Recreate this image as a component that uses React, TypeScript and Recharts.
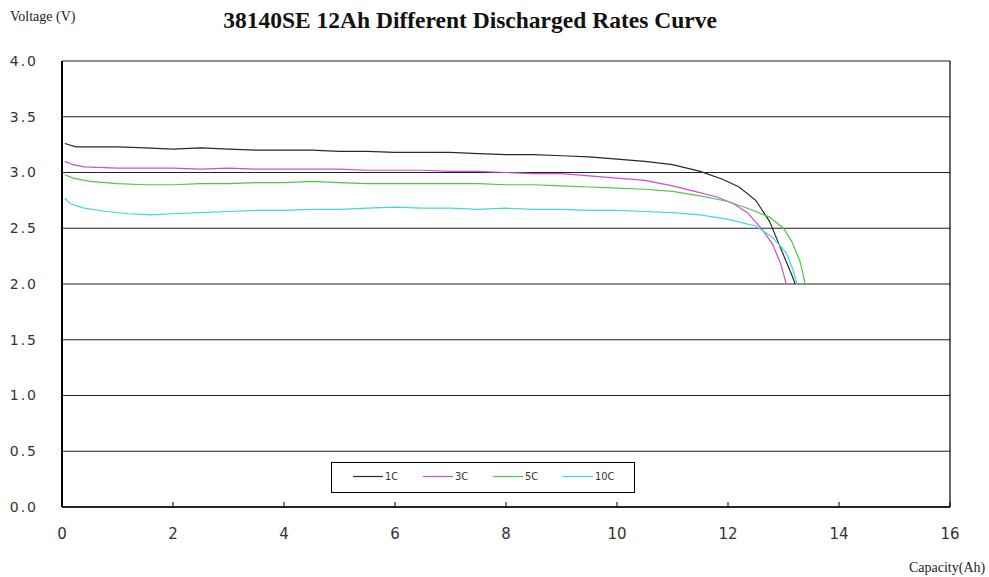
import { LineChart, Line, XAxis, YAxis, CartesianGrid, ReferenceLine } from "recharts"

const title = "38140SE 12Ah Different Discharged Rates Curve"

const xTicks = [0, 2, 4, 6, 8, 10, 12, 14, 16]
const yTicks = [0, 0.5, 1, 1.5, 2, 2.5, 3, 3.5, 4]

const cap1C = [0.05, 0.25, 0.6, 1, 1.5, 2, 2.5, 3, 3.5, 4, 4.5, 5, 5.5, 6, 6.5, 7, 7.5, 8, 8.5, 9, 9.5, 10, 10.5, 11, 11.5, 11.9, 12.2, 12.5, 12.75, 12.9, 13.05, 13.15, 13.21]
const volt1C = [3.26, 3.23, 3.23, 3.23, 3.22, 3.21, 3.22, 3.21, 3.2, 3.2, 3.2, 3.19, 3.19, 3.18, 3.18, 3.18, 3.17, 3.16, 3.16, 3.15, 3.14, 3.12, 3.1, 3.07, 3.01, 2.94, 2.87, 2.75, 2.56, 2.38, 2.2, 2.08, 2.0]

const cap3C = [0.05, 0.2, 0.4, 1, 1.5, 2, 2.5, 3, 3.5, 4, 4.5, 5, 5.5, 6, 6.5, 7, 7.5, 8, 8.5, 9, 9.5, 10, 10.5, 11, 11.4, 11.8, 12.1, 12.35, 12.6, 12.8, 12.95, 13.05]
const volt3C = [3.1, 3.07, 3.05, 3.04, 3.04, 3.04, 3.03, 3.04, 3.03, 3.03, 3.03, 3.03, 3.02, 3.02, 3.02, 3.01, 3.01, 3.0, 2.99, 2.99, 2.97, 2.95, 2.93, 2.88, 2.83, 2.78, 2.72, 2.64, 2.5, 2.36, 2.18, 2.0]

const cap5C = [0.05, 0.2, 0.5, 1, 1.5, 2, 2.5, 3, 3.5, 4, 4.5, 5, 5.5, 6, 6.5, 7, 7.5, 8, 8.5, 9, 9.5, 10, 10.5, 11, 11.5, 12, 12.4, 12.75, 13.0, 13.15, 13.3, 13.39]
const volt5C = [2.98, 2.95, 2.92, 2.9, 2.89, 2.89, 2.9, 2.9, 2.91, 2.91, 2.92, 2.91, 2.9, 2.9, 2.9, 2.9, 2.9, 2.89, 2.89, 2.88, 2.87, 2.86, 2.85, 2.83, 2.79, 2.74, 2.67, 2.6, 2.5, 2.38, 2.2, 2.0]

const cap10C = [0.05, 0.15, 0.4, 0.8, 1.2, 1.6, 2, 2.5, 3, 3.5, 4, 4.5, 5, 5.5, 6, 6.5, 7, 7.5, 8, 8.5, 9, 9.5, 10, 10.5, 11, 11.5, 12, 12.5, 12.8, 13.05, 13.17, 13.24]
const volt10C = [2.77, 2.72, 2.68, 2.65, 2.63, 2.62, 2.63, 2.64, 2.65, 2.66, 2.66, 2.67, 2.67, 2.68, 2.69, 2.68, 2.68, 2.67, 2.68, 2.67, 2.67, 2.66, 2.66, 2.65, 2.64, 2.62, 2.58, 2.52, 2.42, 2.28, 2.13, 2.0]

const series = [
  { name: "1C", cap: cap1C, volt: volt1C, color: "#2a2a2a" },
  { name: "3C", cap: cap3C, volt: volt3C, color: "#d04cd0" },
  { name: "5C", cap: cap5C, volt: volt5C, color: "#4cc84c" },
  { name: "10C", cap: cap10C, volt: volt10C, color: "#40d8d8" },
]

const toPoints = (cap: number[], volt: number[]) => cap.map((x, i) => ({ x, v: volt[i] }))

const XTick = (props: any) => {
  const { x, y, payload } = props
  return (
    <g>
      <line x1={x} x2={x} y1={y} y2={y - 5} stroke="#000" />
      <text x={x} y={y + 32} textAnchor="middle" fill="#333" fontSize={15} fontFamily="'DejaVu Sans', sans-serif">
        {payload.value}
      </text>
    </g>
  )
}

// legend drawn outside the chart so it doesn't eat plot height
const LegendBox = () => (
  <div
    style={{
      position: "absolute",
      left: 331,
      top: 462,
      width: 302,
      height: 29,
      border: "1px solid #000",
      background: "#fff",
      fontFamily: "'DejaVu Sans Condensed', 'DejaVu Sans', sans-serif",
      fontSize: 11,
      color: "#333",
    }}
  >
    {series.map((s, i) => (
      <div key={s.name} style={{ position: "absolute", left: 21 + i * 70, top: 7, display: "flex", alignItems: "center" }}>
        <svg width={30} height={3} style={{ marginRight: 2 }}>
          <line x1={0} x2={30} y1={1.5} y2={1.5} stroke={s.color} strokeWidth={1.2} />
        </svg>
        <span>{s.name}</span>
      </div>
    ))}
  </div>
)

export default function App() {
  return (
    <div style={{ position: "absolute", left: 0, top: 0, width: 989, height: 577, background: "#fff" }}>
      <div
        style={{
          position: "absolute",
          left: 10,
          top: 9,
          fontFamily: "'Liberation Serif', serif",
          fontSize: 14,
          color: "#222",
        }}
      >
        Voltage (V)
      </div>
      <div
        style={{
          position: "absolute",
          left: 0,
          width: 940,
          top: 7,
          textAlign: "center",
          fontFamily: "'Liberation Serif', serif",
          fontWeight: "bold",
          fontSize: 23.5,
          color: "#111",
        }}
      >
        {title}
      </div>
      <div
        style={{
          position: "absolute",
          left: 909,
          top: 560,
          fontFamily: "'Liberation Serif', serif",
          fontSize: 14,
          color: "#222",
        }}
      >
        Capacity(Ah)
      </div>
      <div style={{ position: "absolute", left: 0, top: 0 }}>
        <LineChart width={989} height={577} margin={{ top: 61, right: 39, left: 0, bottom: 40 }}>
          <CartesianGrid vertical={false} stroke="#222" strokeWidth={1.2} />
          <XAxis
            type="number"
            dataKey="x"
            domain={[0, 16]}
            ticks={xTicks}
            height={30}
            tickSize={0}
            tickMargin={0}
            tickLine={false}
            axisLine={{ stroke: "#000", strokeWidth: 1.5 }}
            tick={<XTick />}
            allowDataOverflow
          />
          <YAxis
            type="number"
            dataKey="v"
            domain={[0, 4]}
            ticks={yTicks}
            width={62}
            tickSize={0}
            tickMargin={24}
            tickLine={false}
            axisLine={{ stroke: "#000", strokeWidth: 2 }}
            tickFormatter={(v: number) => v.toFixed(1)}
            tick={{ fill: "#333", fontSize: 14, fontFamily: "'DejaVu Sans', sans-serif", letterSpacing: 2 }}
          />
          <ReferenceLine x={16} stroke="#000" strokeWidth={1.2} />
          {series.map((s) => (
            <Line
              key={s.name}
              data={toPoints(s.cap, s.volt)}
              dataKey="v"
              name={s.name}
              type="linear"
              stroke={s.color}
              strokeWidth={1.2}
              dot={false}
              isAnimationActive={false}
            />
          ))}
        </LineChart>
      </div>
      <LegendBox />
    </div>
  )
}
